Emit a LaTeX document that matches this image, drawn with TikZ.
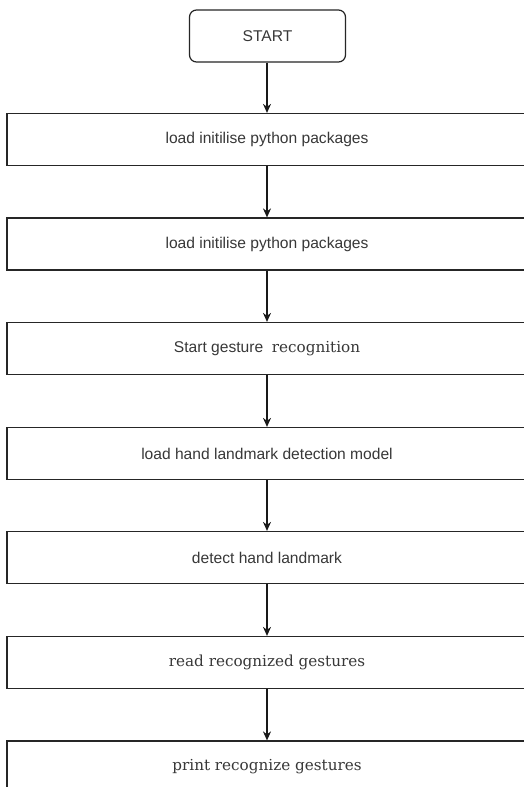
\documentclass[tikz,border=0pt]{standalone}
\usepackage{fontspec}
\setmainfont{Liberation Sans}
\newfontfamily\slabfont{DejaVu Serif}
\usetikzlibrary{arrows.meta}
\newcommand{\slabtxt}{\slabfont\fontsize{15.2}{18}\selectfont}
\newcommand{\boxtxt}[1]{\hspace*{-30pt}#1}
\tikzset{
  box/.style={draw=black!85, line width=1.2pt, minimum width=550pt, minimum height=52pt,
    inner sep=0pt, font=\fontsize{15.6}{18}\selectfont, text=black!78},
  startbox/.style={draw=black!85, line width=1.2pt, rounded corners=7pt, minimum width=156pt,
    minimum height=52pt, inner sep=0pt, font=\fontsize{15.6}{18}\selectfont, text=black!78},
  flow/.style={draw=black!90, line width=1.2pt, -{Stealth[length=9pt,width=8pt]}},
}
\begin{document}
\begin{tikzpicture}[x=1pt,y=-1pt]
\useasboundingbox (0,0) rectangle (524,787);
\clip (0,0) rectangle (524,787);
\fill[white] (0,0) rectangle (524,787);
\node[startbox] (s) at (267.5,36) {START};
\node[box] (b1) at (282,139.5) {\boxtxt{load initilise python packages}};
\node[box] (b2) at (282,244) {\boxtxt{load initilise python packages}};
\node[box] (b3) at (282,348.5) {\boxtxt{Start gesture\ \ {\slabtxt recognition}}};
\node[box] (b4) at (282,453.5) {\boxtxt{load hand landmark detection model}};
\node[box] (b5) at (282,557.5) {\boxtxt{detect hand landmark}};
\node[box] (b6) at (282,662.5) {\boxtxt{\slabtxt read recognized gestures}};
\node[box] (b7) at (282,767) {\boxtxt{\slabtxt print recognize gestures}};
\coordinate (ax) at (267,0);
\draw[flow] (ax |- s.south) -- (ax |- b1.north);
\draw[flow] (ax |- b1.south) -- (ax |- b2.north);
\draw[flow] (ax |- b2.south) -- (ax |- b3.north);
\draw[flow] (ax |- b3.south) -- (ax |- b4.north);
\draw[flow] (ax |- b4.south) -- (ax |- b5.north);
\draw[flow] (ax |- b5.south) -- (ax |- b6.north);
\draw[flow] (ax |- b6.south) -- (ax |- b7.north);
\end{tikzpicture}
\end{document}
